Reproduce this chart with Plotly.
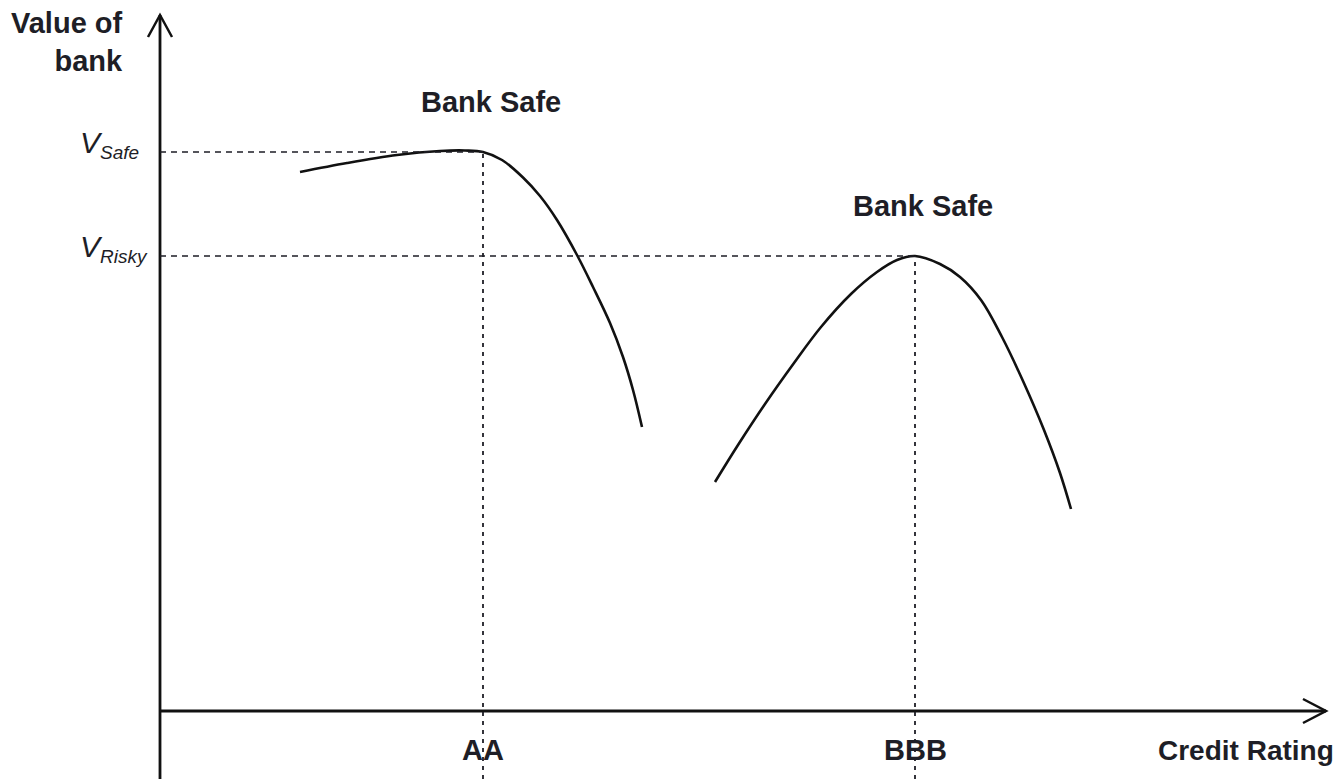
import plotly.graph_objects as go

# ---- data (model units: origin at axes crossing, y upward) ----
ratings = ["AA", "BBB"]
rating_x = [323, 755]
value_names = ["Safe", "Risky"]
value_y = [559, 455]
peak_labels = ["Bank Safe", "Bank Safe"]

safe_x = [140, 187, 237, 280, 305, 323, 342, 363, 380, 397, 417, 433, 450, 463, 473, 482]
safe_y = [539, 548, 556, 560, 560.5, 559, 551, 533.5, 515, 491, 456, 424, 388, 354, 321, 284]

risky_x = [555, 578, 605, 634, 661, 691, 717, 737, 755, 780, 800, 821, 842, 863, 884, 900, 911]
risky_y = [229, 266, 307, 348, 384, 417, 439, 451, 455, 447, 434, 411, 374, 330, 281, 238, 202]

X_MIN, X_MAX = -160, 1183
Y_MIN, Y_MAX = -68, 711
x_axis_end = 1166
y_axis_end = 696

INK = "#1e1e26"
FONT = "Liberation Sans"

fig = go.Figure()
for xs, ys in [(safe_x, safe_y), (risky_x, risky_y)]:
    fig.add_trace(go.Scatter(x=xs, y=ys, mode="lines",
                             line=dict(color="#111", width=2.6, shape="spline", smoothing=1.0),
                             hoverinfo="skip", showlegend=False))

shapes = []
# axes
shapes.append(dict(type="line", x0=0, x1=0, y0=Y_MIN, y1=y_axis_end, line=dict(color="#111", width=2.8)))
shapes.append(dict(type="line", x0=0, x1=x_axis_end, y0=0, y1=0, line=dict(color="#111", width=2.8)))
# arrow heads (open chevrons)
shapes.append(dict(type="path", path=f"M -12,{y_axis_end-22} L 0,{y_axis_end} L 12,{y_axis_end-22}",
                   line=dict(color="#111", width=2.5)))
shapes.append(dict(type="path", path=f"M {x_axis_end-23},12 L {x_axis_end},0 L {x_axis_end-23},-12",
                   line=dict(color="#111", width=2.5)))
# guide lines
for rx, vy in zip(rating_x, value_y):
    shapes.append(dict(type="line", x0=0, x1=rx, y0=vy, y1=vy,
                       line=dict(color=INK, width=1.6, dash="6px,5px")))
    shapes.append(dict(type="line", x0=rx, x1=rx, y0=Y_MIN, y1=vy,
                       line=dict(color=INK, width=1.8, dash="4px,5px")))

ann = []
for rx, lab in zip(rating_x, ratings):
    ann.append(dict(x=rx, y=-39, text=f"<b>{lab}</b>", showarrow=False,
                    font=dict(family=FONT, size=29, color=INK), xanchor="center", yanchor="middle"))
for vy, name in zip(value_y, value_names):
    lab = f"<i>V</i><sub><i><span style='font-size:19px'>{name}</span></i></sub>"
    ann.append(dict(x=-82, y=vy + 8, text=lab, showarrow=False,
                    font=dict(family=FONT, size=30, color=INK), xanchor="left", yanchor="middle"))
for rx, vy, lab in zip(rating_x, value_y, peak_labels):
    ann.append(dict(x=rx + 8, y=vy + 50, text=f"<b>{lab}</b>", showarrow=False,
                    font=dict(family=FONT, size=29, color=INK), xanchor="center", yanchor="middle"))
ann.append(dict(x=-35, y=669, text="<b>Value of<br>bank</b>", showarrow=False, align="right",
                font=dict(family=FONT, size=29, color=INK), xanchor="right", yanchor="middle"))
ann.append(dict(x=1176, y=-39, text="<b>Credit Rating</b>", showarrow=False,
                font=dict(family=FONT, size=28, color=INK), xanchor="right", yanchor="middle"))

fig.update_layout(
    width=1343, height=779,
    margin=dict(l=0, r=0, t=0, b=0),
    paper_bgcolor="white", plot_bgcolor="white",
    xaxis=dict(range=[X_MIN, X_MAX], visible=False, fixedrange=True),
    yaxis=dict(range=[Y_MIN, Y_MAX], visible=False, fixedrange=True),
    shapes=shapes, annotations=ann, showlegend=False,
)
fig.write_html("out.html", config={"displayModeBar": False},
               post_script="document.body.style.margin='0';document.body.style.overflow='hidden';")
